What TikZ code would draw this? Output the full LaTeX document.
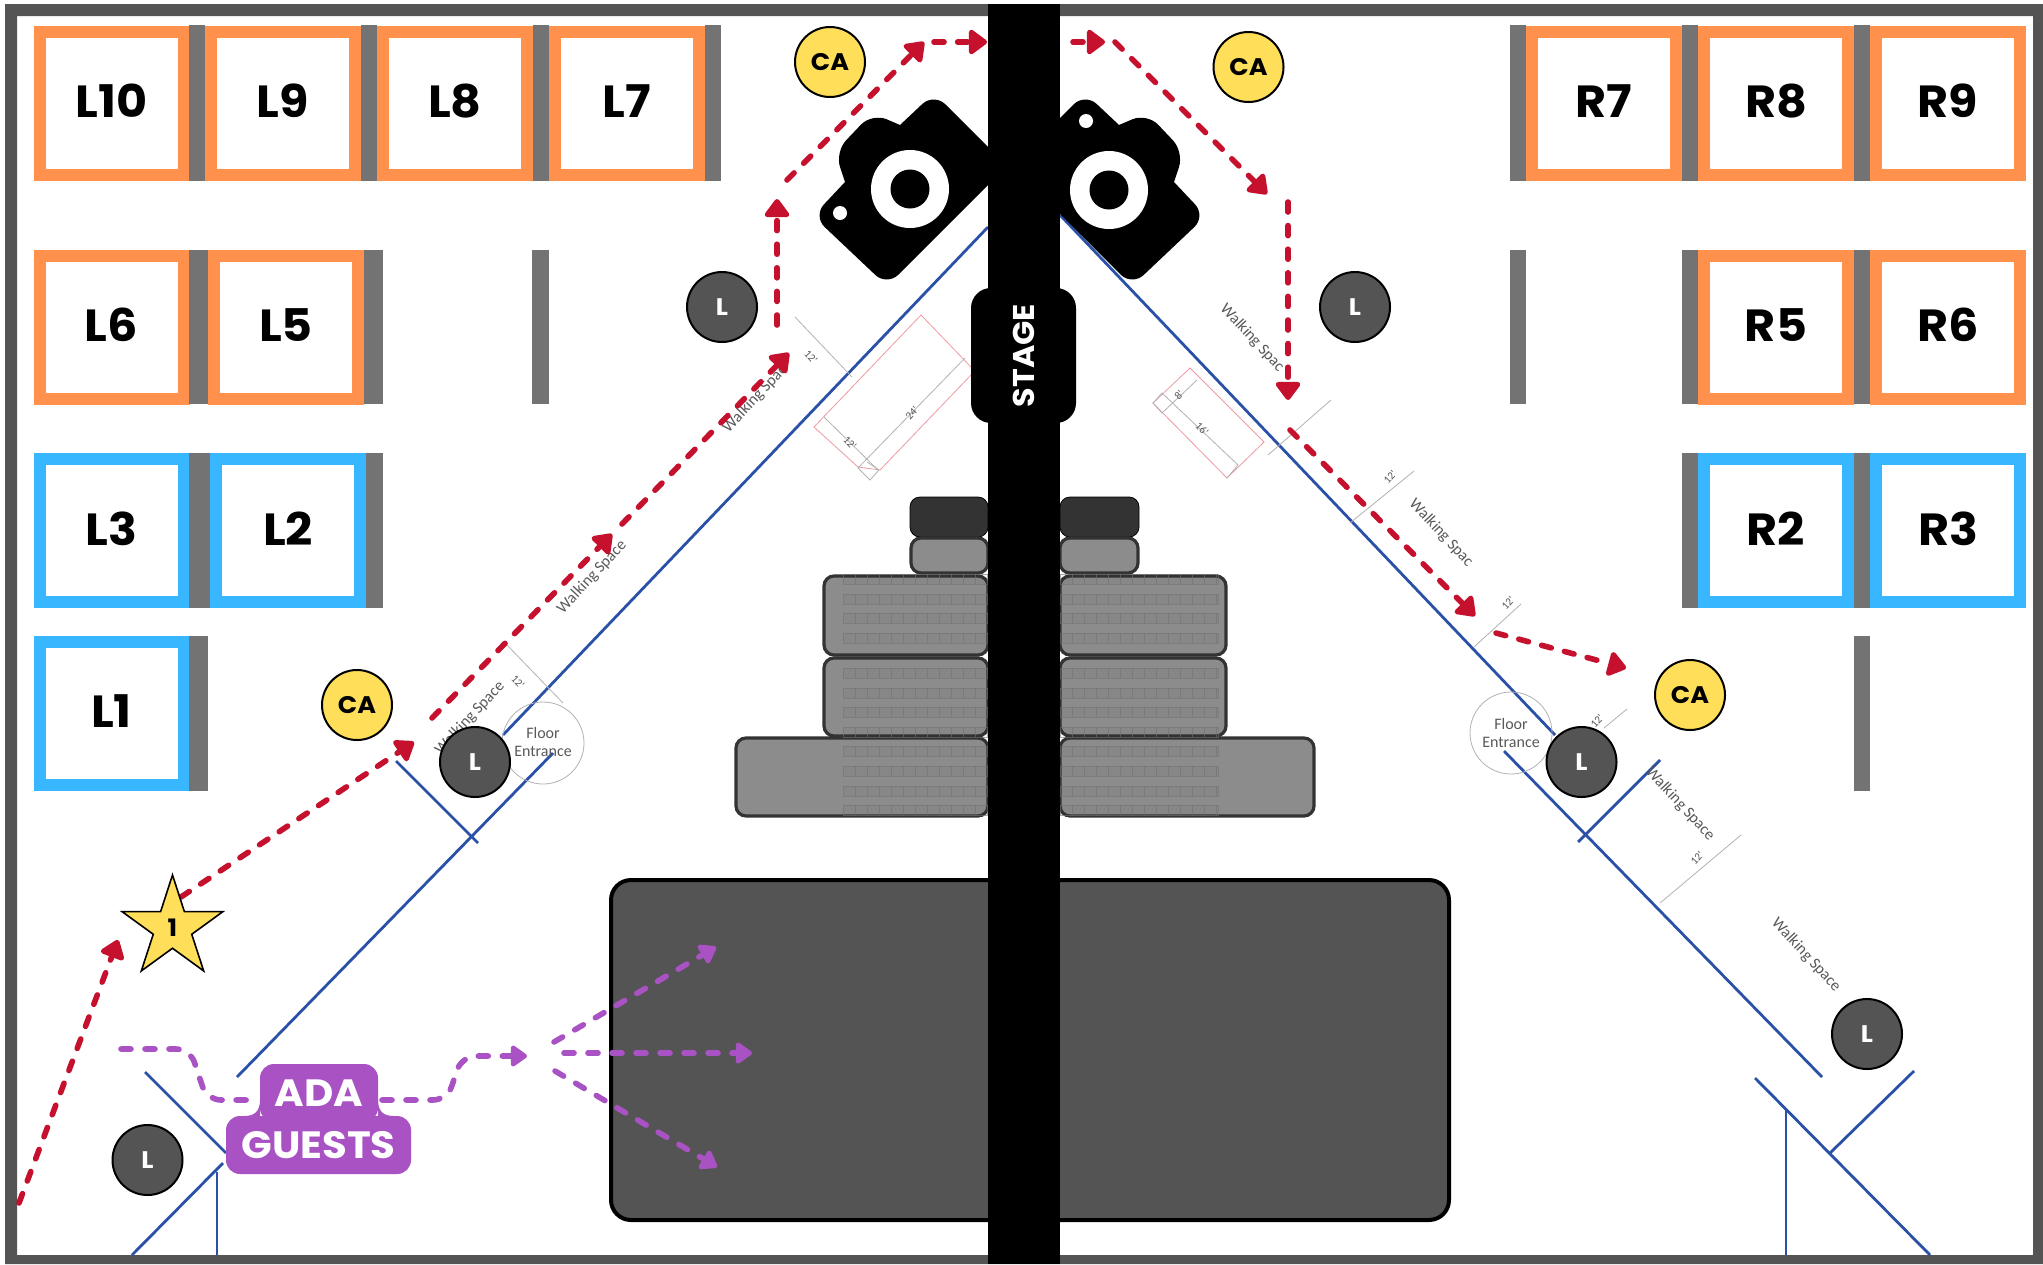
\documentclass[tikz,border=0pt]{standalone}
\usepackage{fontspec}
\setmainfont{Poppins}[FakeStretch=1.06]
\newfontfamily\fpPlanFont{Carlito}
\usetikzlibrary{arrows.meta,shapes.geometric}
\definecolor{fpOrange}{HTML}{FF914D}
\definecolor{fpBlue}{HTML}{38B6FF}
\definecolor{fpWall}{HTML}{737373}
\definecolor{fpFrame}{HTML}{545454}
\definecolor{fpYellow}{HTML}{FFDE59}
\definecolor{fpRed}{HTML}{C5102E}
\definecolor{fpPurple}{HTML}{A952C4}
\definecolor{fpLine}{HTML}{2B50A8}
\definecolor{fpPink}{HTML}{EE9AA2}
\tikzset{
  stall/.style={draw=#1,line width=6pt,fill=white,inner sep=0pt,text depth=2pt,minimum width=72pt,minimum height=71.5pt,font=\fontsize{22.5}{24}\selectfont\bfseries},
  wall/.style 2 args={fill=fpWall,inner sep=0pt,minimum width=#1,minimum height=#2},
  cnode/.style 2 args={circle,draw=black,line width=1pt,inner sep=0pt,minimum size=35pt,fill=#1,text=#2,font=\fontsize{12}{14}\selectfont\bfseries},
  plan/.style={draw=fpLine,line width=1.4pt},
  dim/.style={draw=black!30,line width=.4pt},
  pinkline/.style={draw=fpPink,line width=.4pt},
  plantext/.style={text=black!65,inner sep=0pt,font=\fpPlanFont\fontsize{8}{9}\selectfont},
  dimtext/.style={text=black!65,inner sep=0pt,font=\fpPlanFont\fontsize{5.5}{6}\selectfont},
  block/.style={draw=black!80,line width=1.6pt,fill=black!45,rounded corners=5pt},
  darkblock/.style={fill=black!80,rounded corners=5pt},
  floorblock/.style={draw=black,line width=2pt,fill=fpFrame,rounded corners=10pt},
  seatrow/.style={draw=black!55,line width=.3pt,draw opacity=.6,fill=black,fill opacity=.03},
  redconn/.style={draw=fpRed,line width=2.8pt,line cap=round,dash pattern=on 5pt off 6.8pt,-{Triangle[length=10pt,width=14pt,round]}},
  purpleconn/.style={draw=fpPurple,line width=2.8pt,line cap=round,rounded corners=7pt,dash pattern=on 5pt off 7pt,-{Triangle[length=9pt,width=12pt,round]}},
  adabox/.style={fill=fpPurple,text=white,rounded corners=7pt,inner sep=0pt,font=\fontsize{19}{21}\selectfont\bfseries},
}

\begin{document}
\begin{tikzpicture}[x=.5pt,y=-.5pt]
\path[use as bounding box,fill=white] (0,0) rectangle (2043,1264);
% --- Route points ----------------------------------------------------------

  \coordinate (rA0) at (19,1203);   \coordinate (rA1) at (118,940);
  \coordinate (rB0) at (181,897);   \coordinate (rB1) at (414,742);
  \coordinate (rC0) at (432,718);   \coordinate (rC1) at (612,534);
  \coordinate (rD0) at (622,524);   \coordinate (rD1) at (789,353);
  \coordinate (rE0) at (777,325);   \coordinate (rE1) at (777,199);
  \coordinate (rF0) at (787,180);   \coordinate (rF1) at (924,42);
  \coordinate (rG0) at (934,42);    \coordinate (rG1) at (987,42);
  \coordinate (rH0) at (1073,42);   \coordinate (rH1) at (1105,42);
  \coordinate (rI0) at (1115,42);   \coordinate (rI1) at (1267,194);
  \coordinate (rJ0) at (1288,202);  \coordinate (rJ1) at (1288,400);
  \coordinate (rK0) at (1290,430);  \coordinate (rK1) at (1475,616);
  \coordinate (rL0) at (1496,633);  \coordinate (rL1) at (1626,668);

  \coordinate (pA0) at (121,1049);  \coordinate (pA1) at (190,1049);
  \coordinate (pA2) at (207,1100);  \coordinate (pA3) at (253,1100);
  \coordinate (pB0) at (382,1100);  \coordinate (pB1) at (447,1100);
  \coordinate (pB2) at (462,1056);  \coordinate (pB3) at (527,1056);
  \coordinate (pC0) at (554,1042);  \coordinate (pC1) at (716,947);
  \coordinate (pD0) at (564,1053);  \coordinate (pD1) at (752,1053);
  \coordinate (pE0) at (555,1071);  \coordinate (pE1) at (717,1167);

% --- Room outline ----------------------------------------------------------

  \fill[fpFrame,even odd rule] (5,4) rectangle (2043,1264) (17,16) rectangle (2033,1255);

% --- Plan lines (blue) -----------------------------------------------------

  \draw[plan] (988,227) -- (503,735);
  \draw[plan] (553,753) -- (237,1077);
  \draw[plan] (396,761) -- (478,843);
  \draw[plan] (145,1072) -- (226,1153);
  \draw[plan] (223,1163) -- (132,1255);
  \draw[plan] (217,1172) -- (217,1255);
  \draw[plan] (1060,215) -- (1555,735);
  \draw[plan] (1504,751) -- (1822,1077);
  \draw[plan] (1578,842) -- (1660,760);
  \draw[plan] (1755,1078) -- (1930,1255);
  \draw[plan] (1786,1110) -- (1786,1255);
  \draw[plan] (1830,1153) -- (1914,1071);

% --- Dimension lines and plan labels ---------------------------------------

  \draw[dim] (795,317) -- (852,377);
  \draw[dim] (507,645) -- (563,703);
  \draw[dim] (1331,400) -- (1268,455);
  \draw[dim] (1414,471) -- (1350,523);
  \draw[dim] (1521,604) -- (1474,647);
  \draw[dim] (1627,709) -- (1604,728);
  \draw[dim] (1741,835) -- (1660,903);

  \draw[pinkline] (971,375) -- (880,470) -- (858,467) -- (814,427) -- (921,315) -- (971,367);
  \draw[dim] (965,358) -- (858,468) -- (870,480) -- (879,470) -- (867,462);
  \draw[dim] (824,417) -- (878,470);
  \draw[pinkline] (1190,368) -- (1153,403) -- (1227,478) -- (1264,442) -- cycle;
  \draw[dim] (1197,380) -- (1162,413) -- (1153,403) -- (1162,393) -- (1238,465) -- (1227,478);

  \node[circle,dim,inner sep=0pt,minimum size=41pt] (floorL) at (543,743) {};
  \node[circle,dim,inner sep=0pt,minimum size=41pt] (floorR) at (1511,733) {};
  \node[plantext,align=center] (floorLt) at (543,742) {Floor\\Entrance};
  \node[plantext,align=center] (floorRt) at (1511,733) {Floor\\Entrance};

  \node[plantext,rotate=47] (walkA) at (755,399) {Walking Spac};
  \node[plantext,rotate=47] (walkB) at (592,577) {Walking Space};
  \node[plantext,rotate=47] (walkC) at (470,718) {Walking Space};
  \node[plantext,rotate=-47] (walkD) at (1252,338) {Walking Spac};
  \node[plantext,rotate=-47] (walkE) at (1441,533) {Walking Spac};
  \node[plantext,rotate=-47] (walkF) at (1680,804) {Walking Space};
  \node[plantext,rotate=-47] (walkG) at (1806,955) {Walking Space};

  \node[dimtext,rotate=-47] (dimA) at (811,357) {12'};
  \node[dimtext,rotate=-47] (dimB) at (518,682) {12'};
  \node[dimtext,rotate=47] (dimC) at (912,413) {24'};
  \node[dimtext,rotate=-47] (dimD) at (850,443) {12'};
  \node[dimtext,rotate=47] (dimE) at (1179,395) {8'};
  \node[dimtext,rotate=-47] (dimF) at (1202,429) {16'};
  \node[dimtext,rotate=47] (dimG) at (1390,477) {12'};
  \node[dimtext,rotate=47] (dimH) at (1508,603) {12'};
  \node[dimtext,rotate=47] (dimI) at (1597,721) {12'};
  \node[dimtext,rotate=47] (dimJ) at (1697,858) {12'};

% --- Stalls ----------------------------------------------------------------

  \node[stall=fpOrange] (L10) at (111.5,103) {L10};
  \node[wall={8pt}{78pt}] (wallA) at (197,103) {};
  \node[stall=fpOrange] (L9) at (283,103) {L9};
  \node[wall={8pt}{78pt}] (wallB) at (369,103) {};
  \node[stall=fpOrange] (L8) at (455,103) {L8};
  \node[wall={8pt}{78pt}] (wallC) at (541,103) {};
  \node[stall=fpOrange] (L7) at (627,103) {L7};
  \node[wall={8pt}{78pt}] (wallD) at (713,103) {};

  \node[stall=fpOrange] (L6) at (111.5,327) {L6};
  \node[wall={9.5pt}{77pt}] (wallE) at (198.5,327) {};
  \node[stall=fpOrange] (L5) at (286,327) {L5};
  \node[wall={9.5pt}{77pt}] (wallF) at (373.5,327) {};
  \node[wall={8.5pt}{77pt}] (wallG) at (540.5,327) {};

  \node[stall=fpBlue] (L3) at (111.5,530.5) {L3};
  \node[wall={10.5pt}{77.5pt}] (wallH) at (199.5,530.5) {};
  \node[stall=fpBlue] (L2) at (288,530.5) {L2};
  \node[wall={8.5pt}{77.5pt}] (wallI) at (374.5,530.5) {};

  \node[stall=fpBlue] (L1) at (111.5,713.5) {L1};
  \node[wall={9.5pt}{77.5pt}] (wallJ) at (198.5,713.5) {};

  \node[wall={8pt}{78pt}] (wallK) at (1518,103) {};
  \node[stall=fpOrange] (R7) at (1604,103) {R7};
  \node[wall={8pt}{78pt}] (wallL) at (1690,103) {};
  \node[stall=fpOrange] (R8) at (1776,103) {R8};
  \node[wall={8pt}{78pt}] (wallM) at (1862,103) {};
  \node[stall=fpOrange] (R9) at (1948,103) {R9};

  \node[wall={8pt}{77pt}] (wallN) at (1518,327) {};
  \node[wall={8pt}{77pt}] (wallO) at (1690,327) {};
  \node[stall=fpOrange] (R5) at (1776,327) {R5};
  \node[wall={8pt}{77pt}] (wallP) at (1862,327) {};
  \node[stall=fpOrange] (R6) at (1948,327) {R6};

  \node[wall={8pt}{77.5pt}] (wallQ) at (1690,530.5) {};
  \node[stall=fpBlue] (R2) at (1776,530.5) {R2};
  \node[wall={8pt}{77.5pt}] (wallR) at (1862,530.5) {};
  \node[stall=fpBlue] (R3) at (1948,530.5) {R3};

  \node[wall={8pt}{77.5pt}] (wallS) at (1862,713.5) {};

% --- Seating blocks --------------------------------------------------------

  \draw[darkblock] (910,497) rectangle (988,537);
  \draw[darkblock] (1060,497) rectangle (1139,537);
  \draw[block] (911,538) rectangle (988,573);
  \draw[block] (1060,538) rectangle (1138,573);
  \draw[block] (824,576) rectangle (988,655);
  \draw[block] (1060,576) rectangle (1226,655);
  \draw[block] (824,658) rectangle (988,736);
  \draw[block] (1060,658) rectangle (1226,736);
  \draw[block] (736,738) rectangle (988,816);
  \draw[block] (1060,738) rectangle (1314,816);

  \foreach \ry in {579,599,618,638,673,693,712,732,751,771,791,810}{
    \draw[seatrow] (843,{\ry-5}) rectangle (988,{\ry+5});
    \draw[seatrow] (1060,{\ry-5}) rectangle (1218,{\ry+5});
    \foreach \sx in {855,867,...,987}{\draw[seatrow] (\sx,{\ry-5}) -- (\sx,{\ry+5});}
    \foreach \sx in {1072,1084,...,1216}{\draw[seatrow] (\sx,{\ry-5}) -- (\sx,{\ry+5});}
  }

  \draw[floorblock] (611,880) rectangle (1449,1220);

% --- Edges -----------------------------------------------------------------

  \draw[redconn] (rA0) -- (rA1);
  \draw[redconn] (rB0) -- (rB1);
  \draw[redconn] (rC0) -- (rC1);
  \draw[redconn] (rD0) -- (rD1);
  \draw[redconn] (rE0) -- (rE1);
  \draw[redconn] (rF0) -- (rF1);
  \draw[redconn] (rG0) -- (rG1);
  \draw[redconn] (rH0) -- (rH1);
  \draw[redconn] (rI0) -- (rI1);
  \draw[redconn] (rJ0) -- (rJ1);
  \draw[redconn] (rK0) -- (rK1);
  \draw[redconn] (rL0) -- (rL1);

  \draw[purpleconn,-] (pA0) -- (pA1) -- (pA2) -- (pA3);
  \draw[purpleconn] (pB0) -- (pB1) -- (pB2) -- (pB3);
  \draw[purpleconn] (pC0) -- (pC1);
  \draw[purpleconn] (pD0) -- (pD1);
  \draw[purpleconn] (pE0) -- (pE1);

% --- Stage and cameras -----------------------------------------------------

  \fill[black] (1000,159) [rounded corners=8pt] -- (934,93) [sharp corners] -- (900,125) [rounded corners=8pt] -- (872,113) -- (835,152) [sharp corners] -- (845,182) [rounded corners=8pt] -- (813,216) -- (887,286) -- (1000,173) -- cycle;
  \fill[black] (1019,159) [rounded corners=8pt] -- (1085,93) [sharp corners] -- (1119,125) [rounded corners=8pt] -- (1147,113) -- (1184,152) [sharp corners] -- (1174,182) [rounded corners=8pt] -- (1206,216) -- (1132,286) -- (1019,173) -- cycle;
  \fill[white] (910,189) circle (39);
  \fill[black] (910,189) circle (19.5);
  \fill[white] (840,213) circle (7);
  \fill[white] (1109,190) circle (39);
  \fill[black] (1109,190) circle (19.5);
  \fill[white] (1086,121) circle (7);

  \node[fill=black,inner sep=0pt,minimum width=36pt,minimum height=630pt] (stagebar) at (1024,634) {};
  \node[fill=black,text=white,rounded corners=10pt,inner sep=0pt,rotate=90,minimum width=67.5pt,minimum height=52.5pt,font=\fontsize{15}{17}\selectfont\bfseries] (stage) at (1023.5,355.5) {STAGE};

% --- Staff markers ---------------------------------------------------------

  \node[cnode={fpYellow}{black}] (caA) at (830,62) {CA};
  \node[cnode={fpYellow}{black}] (caB) at (1248.5,67) {CA};
  \node[cnode={fpYellow}{black}] (caC) at (357,705) {CA};
  \node[cnode={fpYellow}{black}] (caD) at (1690,695) {CA};

  \node[cnode={fpFrame}{white}] (lA) at (722,307) {L};
  \node[cnode={fpFrame}{white}] (lB) at (1355,307) {L};
  \node[cnode={fpFrame}{white}] (lC) at (475,762) {L};
  \node[cnode={fpFrame}{white}] (lD) at (1581.5,762) {L};
  \node[cnode={fpFrame}{white}] (lE) at (1867,1034) {L};
  \node[cnode={fpFrame}{white}] (lF) at (147.5,1160) {L};

  \node[star,star points=5,star point ratio=2.618,draw=black,line width=.8pt,fill=fpYellow,inner sep=0pt,minimum size=53pt,font=\fontsize{12}{14}\selectfont\bfseries] (star) at (172.5,928) {1};

% --- ADA label -------------------------------------------------------------

  \fill[fpPurple] (260,1100) .. controls (260,1112) and (254,1116) .. (244,1116) -- (260,1116) -- cycle;
  \fill[fpPurple] (378,1100) .. controls (378,1112) and (384,1116) .. (394,1116) -- (378,1116) -- cycle;
  \node[adabox,minimum width=59pt,minimum height=29pt] (ada) at (319,1093) {ADA};
  \node[adabox,minimum width=92.5pt,minimum height=29pt] (guests) at (318.5,1145) {GUESTS};
\end{tikzpicture}
\end{document}
